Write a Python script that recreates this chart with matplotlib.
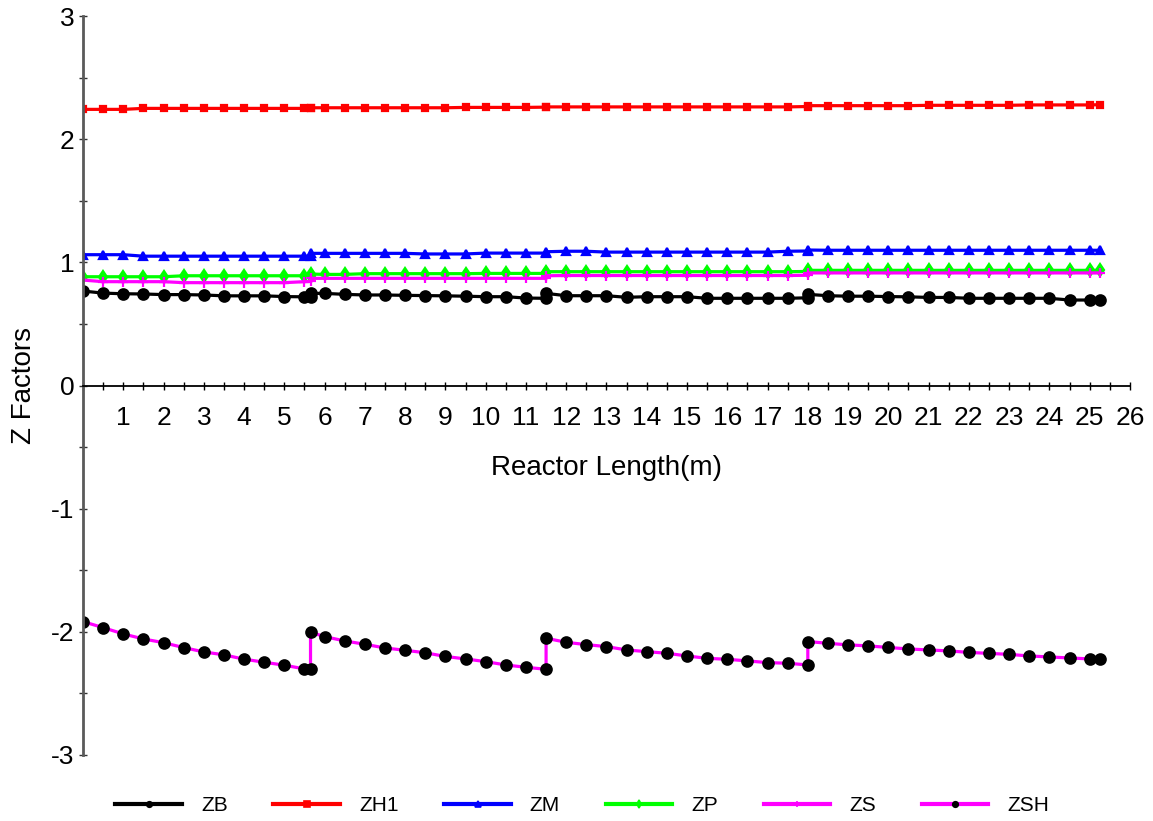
import matplotlib
matplotlib.use('Agg')
from matplotlib import pyplot as plt
from matplotlib.lines import Line2D
from matplotlib.ticker import MultipleLocator

plt.rcParams['font.family'] = ['Liberation Sans', 'DejaVu Sans']
plt.rcParams['axes.unicode_minus'] = False

# axial positions (m); bed boundaries appear twice (outlet of one bed, inlet of the next)
length_m = [0.0, 0.5, 1.0, 1.5, 2.0, 2.5, 3.0, 3.5, 4.0, 4.5, 5.0, 5.5, 5.65,
            5.65, 6.0, 6.5, 7.0, 7.5, 8.0, 8.5, 9.0, 9.5, 10.0, 10.5, 11.0, 11.5,
            11.5, 12.0, 12.5, 13.0, 13.5, 14.0, 14.5, 15.0, 15.5, 16.0, 16.5, 17.0, 17.5, 18.0,
            18.0, 18.5, 19.0, 19.5, 20.0, 20.5, 21.0, 21.5, 22.0, 22.5, 23.0, 23.5, 24.0, 24.5, 25.0, 25.25]

zb = [0.767, 0.750, 0.745, 0.743, 0.738, 0.738, 0.735, 0.728, 0.728, 0.728, 0.722, 0.720, 0.718,
      0.748, 0.748, 0.740, 0.735, 0.735, 0.732, 0.730, 0.728, 0.725, 0.721, 0.721, 0.710, 0.708,
      0.748, 0.729, 0.729, 0.729, 0.716, 0.721, 0.721, 0.721, 0.708, 0.708, 0.708, 0.708, 0.708, 0.712,
      0.740, 0.729, 0.725, 0.725, 0.722, 0.720, 0.715, 0.715, 0.708, 0.708, 0.708, 0.708, 0.708, 0.694, 0.694, 0.695]

zh1 = [2.242, 2.242, 2.242, 2.250, 2.250, 2.250, 2.250, 2.250, 2.250, 2.250, 2.250, 2.250, 2.250,
       2.255, 2.255, 2.255, 2.255, 2.255, 2.255, 2.255, 2.255, 2.258, 2.258, 2.258, 2.258, 2.260,
       2.262, 2.262, 2.262, 2.262, 2.262, 2.262, 2.262, 2.262, 2.262, 2.262, 2.262, 2.262, 2.262, 2.265,
       2.272, 2.272, 2.272, 2.272, 2.272, 2.272, 2.275, 2.275, 2.275, 2.275, 2.275, 2.278, 2.278, 2.278, 2.278, 2.280]

zm = [1.062, 1.062, 1.062, 1.050, 1.050, 1.050, 1.050, 1.050, 1.050, 1.050, 1.050, 1.050, 1.050,
      1.073, 1.073, 1.073, 1.073, 1.073, 1.073, 1.068, 1.068, 1.068, 1.075, 1.075, 1.075, 1.075,
      1.086, 1.090, 1.090, 1.083, 1.083, 1.083, 1.083, 1.083, 1.083, 1.083, 1.083, 1.083, 1.090, 1.092,
      1.100, 1.098, 1.098, 1.098, 1.098, 1.098, 1.098, 1.098, 1.098, 1.098, 1.098, 1.098, 1.098, 1.098, 1.098, 1.098]

zp = [0.883, 0.883, 0.883, 0.883, 0.883, 0.891, 0.891, 0.891, 0.891, 0.891, 0.891, 0.891, 0.891,
      0.905, 0.902, 0.902, 0.908, 0.908, 0.908, 0.908, 0.908, 0.908, 0.910, 0.910, 0.910, 0.910,
      0.924, 0.924, 0.924, 0.924, 0.924, 0.924, 0.924, 0.924, 0.924, 0.924, 0.924, 0.924, 0.924, 0.926,
      0.935, 0.935, 0.935, 0.935, 0.935, 0.935, 0.935, 0.935, 0.935, 0.935, 0.935, 0.935, 0.935, 0.935, 0.935, 0.935]

zs = [0.856, 0.843, 0.843, 0.843, 0.843, 0.835, 0.835, 0.835, 0.835, 0.835, 0.835, 0.843, 0.845,
      0.870, 0.870, 0.870, 0.870, 0.870, 0.870, 0.870, 0.870, 0.870, 0.870, 0.870, 0.870, 0.870,
      0.891, 0.893, 0.893, 0.893, 0.893, 0.893, 0.893, 0.893, 0.893, 0.893, 0.893, 0.893, 0.893, 0.895,
      0.914, 0.914, 0.914, 0.914, 0.914, 0.914, 0.914, 0.914, 0.914, 0.914, 0.914, 0.914, 0.914, 0.914, 0.914, 0.914]

zsh = [-1.917, -1.966, -2.017, -2.058, -2.088, -2.128, -2.163, -2.187, -2.222, -2.247, -2.271, -2.301, -2.305,
       -2.003, -2.039, -2.074, -2.101, -2.131, -2.150, -2.170, -2.200, -2.220, -2.242, -2.269, -2.288, -2.304,
       -2.052, -2.085, -2.104, -2.120, -2.147, -2.161, -2.174, -2.196, -2.215, -2.223, -2.236, -2.250, -2.255, -2.269,
       -2.079, -2.093, -2.106, -2.114, -2.127, -2.139, -2.147, -2.155, -2.167, -2.175, -2.183, -2.196, -2.204, -2.212, -2.220, -2.222]

names = ['ZB', 'ZH1', 'ZM', 'ZP', 'ZS', 'ZSH']

fig = plt.figure(figsize=(11.53, 8.21), dpi=100)
ax = fig.add_axes([0.072, 0.0804, 0.908, 0.9001])

# (values, line colour, marker, marker colour, marker size)
styles = [
    (zb, 'black', 'o', 'black', 7.5),
    (zh1, '#ff0000', 's', '#ff0000', 5),
    (zm, '#0000ff', '^', '#0000ff', 6),
    (zp, '#00ff00', 'd', '#00ff00', 6.5),
    (zs, '#ff00ff', '+', '#ff00ff', 7),
    (zsh, '#ff00ff', 'o', 'black', 7.5),
]

handles = []
for name, (vals, lc, mk, mc, ms) in zip(names, styles):
    ax.plot(length_m, vals, color=lc, lw=2.3, marker=mk, ms=ms,
            mfc=mc, mec=mc, mew=1.6)
    handles.append(Line2D([], [], color=lc, lw=3, marker=mk, ms=4,
                          mfc=mc, mec=mc, mew=1.2, label=name))

ax.set_xlim(0, 26)
ax.set_ylim(-3, 3)

ax.spines['top'].set_visible(False)
ax.spines['right'].set_visible(False)
ax.spines['bottom'].set_position(('data', 0))
ax.spines['bottom'].set_linewidth(1.3)
ax.spines['left'].set_color('#5a5a5a')
ax.spines['left'].set_linewidth(2)

ax.set_xticks(range(1, 27))
ax.xaxis.set_minor_locator(MultipleLocator(0.5))
ax.set_yticks(range(-3, 4))
ax.yaxis.set_minor_locator(MultipleLocator(0.5))

ax.tick_params(axis='x', which='both', direction='inout', length=6, width=1, labelsize=19, pad=12)
ax.tick_params(axis='y', which='both', direction='inout', length=6, width=1,
               color='#333333', labelsize=19, pad=3)

ax.set_xlabel('Reactor Length(m)', fontsize=20, labelpad=18)
ax.set_ylabel('Z Factors', fontsize=20, labelpad=10)

fig.legend(handles=handles, loc='center', bbox_to_anchor=(0.505, 0.019), ncol=6,
           frameon=False, fontsize=15, handlelength=3.2, handletextpad=0.9,
           columnspacing=2.2)

fig.savefig('out.png', dpi=100)
